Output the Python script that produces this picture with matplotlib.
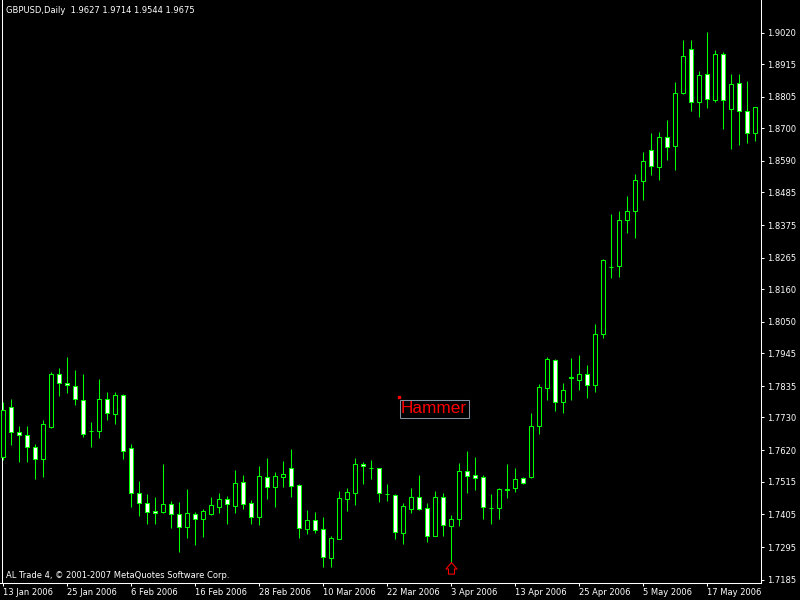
import matplotlib
matplotlib.use('Agg')
import matplotlib.pyplot as plt
from matplotlib.path import Path
import numpy as np

title_text = "GBPUSD,Daily  1.9627 1.9714 1.9544 1.9675"
copyright_text = "AL Trade 4, \u00a9 2001-2007 MetaQuotes Software Corp."

opens = [1.7598, 1.7764, 1.7680, 1.7670, 1.7630, 1.7590, 1.7699, 1.7875, 1.7844, 1.7834,
         1.7787, 1.7684, 1.7683, 1.7791, 1.7740, 1.7804, 1.7626, 1.7476, 1.7442, 1.7416,
         1.7412, 1.7439, 1.7405, 1.7362, 1.7405, 1.7391, 1.7407, 1.7431, 1.7455, 1.7434,
         1.7512, 1.7442, 1.7397, 1.7529, 1.7498, 1.7529, 1.7559, 1.7502, 1.7357, 1.7386,
         1.7355, 1.7260, 1.7323, 1.7457, 1.7478, 1.7574, 1.7560, 1.7559, 1.7473, 1.7469,
         1.7343, 1.7424, 1.7462, 1.7425, 1.7333, 1.7462, 1.7367, 1.7390, 1.7549, 1.7536,
         1.7529, 1.7427, 1.7427, 1.7488, 1.7494, 1.7526, 1.7531, 1.7702, 1.7830, 1.7924,
         1.7781, 1.7863, 1.7856, 1.7876, 1.7840, 1.8011, 1.8233, 1.8237, 1.8391, 1.8421,
         1.8523, 1.8627, 1.8571, 1.8670, 1.8641, 1.8817, 1.8964, 1.8787, 1.8880, 1.8794,
         1.8948, 1.8763, 1.8850, 1.8757, 1.8683]
highs = [1.7783, 1.7792, 1.7701, 1.7701, 1.7641, 1.7721, 1.7882, 1.7896, 1.7933, 1.7889,
         1.7876, 1.7715, 1.7859, 1.7815, 1.7815, 1.7808, 1.7641, 1.7517, 1.7474, 1.7463,
         1.7574, 1.7450, 1.7446, 1.7490, 1.7413, 1.7423, 1.7463, 1.7477, 1.7467, 1.7554,
         1.7537, 1.7453, 1.7567, 1.7594, 1.7547, 1.7584, 1.7624, 1.7507, 1.7421, 1.7413,
         1.7396, 1.7332, 1.7484, 1.7493, 1.7594, 1.7581, 1.7587, 1.7560, 1.7507, 1.7472,
         1.7442, 1.7493, 1.7536, 1.7442, 1.7482, 1.7476, 1.7402, 1.7577, 1.7617, 1.7597,
         1.7537, 1.7473, 1.7492, 1.7574, 1.7560, 1.7529, 1.7745, 1.7842, 1.7933, 1.7926,
         1.7844, 1.7929, 1.7939, 1.7906, 1.8043, 1.8261, 1.8412, 1.8422, 1.8472, 1.8546,
         1.8620, 1.8684, 1.8687, 1.8727, 1.8855, 1.8996, 1.8996, 1.8892, 1.9022, 1.8962,
         1.8955, 1.8882, 1.8882, 1.8857, 1.8770]
lows = [1.7587, 1.7638, 1.7582, 1.7582, 1.7525, 1.7531, 1.7695, 1.7803, 1.7813, 1.7773,
        1.7665, 1.7632, 1.7662, 1.7721, 1.7709, 1.7591, 1.7431, 1.7400, 1.7374, 1.7374,
        1.7411, 1.7360, 1.7280, 1.7327, 1.7303, 1.7330, 1.7404, 1.7411, 1.7374, 1.7411,
        1.7424, 1.7374, 1.7370, 1.7457, 1.7431, 1.7498, 1.7464, 1.7327, 1.7340, 1.7343,
        1.7230, 1.7230, 1.7322, 1.7417, 1.7437, 1.7508, 1.7525, 1.7447, 1.7451, 1.7322,
        1.7306, 1.7411, 1.7420, 1.7312, 1.7332, 1.7333, 1.7246, 1.7367, 1.7478, 1.7487,
        1.7390, 1.7374, 1.7390, 1.7461, 1.7481, 1.7508, 1.7527, 1.7675, 1.7788, 1.7753,
        1.7744, 1.7788, 1.7822, 1.7796, 1.7816, 1.7997, 1.8199, 1.8202, 1.8349, 1.8333,
        1.8459, 1.8543, 1.8526, 1.8593, 1.8560, 1.8816, 1.8758, 1.8738, 1.8768, 1.8789,
        1.8696, 1.8629, 1.8643, 1.8649, 1.8658]
closes = [1.7755, 1.7680, 1.7672, 1.7632, 1.7592, 1.7707, 1.7875, 1.7844, 1.7838, 1.7791,
          1.7673, 1.7683, 1.7791, 1.7744, 1.7804, 1.7616, 1.7476, 1.7444, 1.7414, 1.7411,
          1.7439, 1.7405, 1.7362, 1.7409, 1.7391, 1.7416, 1.7435, 1.7455, 1.7439, 1.7509,
          1.7441, 1.7397, 1.7533, 1.7498, 1.7533, 1.7539, 1.7501, 1.7358, 1.7386, 1.7354,
          1.7263, 1.7326, 1.7459, 1.7479, 1.7574, 1.7566, 1.7559, 1.7475, 1.7472, 1.7347,
          1.7432, 1.7462, 1.7424, 1.7333, 1.7462, 1.7370, 1.7388, 1.7550, 1.7535, 1.7528,
          1.7431, 1.7426, 1.7489, 1.7491, 1.7523, 1.7509, 1.7700, 1.7831, 1.7926, 1.7781,
          1.7821, 1.7864, 1.7876, 1.7840, 1.8009, 1.8257, 1.8234, 1.8391, 1.8421, 1.8525,
          1.8589, 1.8574, 1.8670, 1.8638, 1.8818, 1.8942, 1.8787, 1.8878, 1.8797, 1.8948,
          1.8793, 1.8847, 1.8756, 1.8683, 1.8770]

date_labels = ['13 Jan 2006', '25 Jan 2006', '6 Feb 2006', '16 Feb 2006', '28 Feb 2006',
               '10 Mar 2006', '22 Mar 2006', '3 Apr 2006', '13 Apr 2006', '25 Apr 2006',
               '5 May 2006', '17 May 2006']
date_label_step = 8
price_labels = ['1.9020', '1.8915', '1.8805', '1.8700', '1.8590', '1.8485', '1.8375',
                '1.8265', '1.8160', '1.8050', '1.7945', '1.7835', '1.7730', '1.7620',
                '1.7515', '1.7405', '1.7295', '1.7185']

hammer_index = 56
hammer_label = 'Hammer'
hammer_dot = (49.5, 1.7798)
hammer_text_pos = (49.75, 1.7759)

GREEN = '#00ff00'
W, H = 800, 600
fig = plt.figure(figsize=(8, 6), dpi=100, facecolor='black')
ax = fig.add_axes([0, 17 / H, 761 / W, 583 / H])
ax.set_facecolor('black')

o = np.array(opens); h = np.array(highs); l = np.array(lows); c = np.array(closes)
n = len(o)
x = np.arange(n)
bull = c >= o
ax.vlines(x, l, h, colors=GREEN, linewidth=0.75, zorder=2)
ax.bar(x, np.abs(c - o), bottom=np.minimum(o, c), width=0.5,
       color=['black' if b else 'white' for b in bull],
       edgecolor=GREEN, linewidth=0.75, zorder=3)

ax.set_xlim(-0.375, 94.75)
ax.set_ylim(1.71748, 1.91296)

for s in ['top', 'left']:
    ax.spines[s].set_visible(False)
for s in ['bottom', 'right']:
    ax.spines[s].set_color('white')
    ax.spines[s].set_linewidth(0.75)

ax.axvline(-0.125, color='white', linewidth=0.75, zorder=1)

ax.yaxis.tick_right()
ax.set_yticks([float(v) for v in price_labels])
ax.set_yticklabels(price_labels)
ax.tick_params(axis='y', colors='white', labelcolor='white', length=2.5, width=0.75,
               pad=2, labelsize=6)
ax.set_xticks(list(range(0, date_label_step * len(date_labels), date_label_step)))
ax.set_xticklabels(date_labels)
ax.tick_params(axis='x', colors='white', labelcolor='white', length=2, width=0.75,
               pad=1.5, labelsize=6)
for lbl in ax.get_xticklabels():
    lbl.set_horizontalalignment('left')

# Hammer signal
arrow_verts = [(0, 0), (5.5, -6.5), (3, -6.5), (3, -11.6), (-3, -11.6), (-3, -6.5),
               (-5.5, -6.5), (0, 0)]
arrow_codes = [Path.MOVETO] + [Path.LINETO] * 6 + [Path.CLOSEPOLY]
ax.plot([hammer_index], [lows[hammer_index]], marker=Path(arrow_verts, arrow_codes),
        markersize=16.7, markerfacecolor='none', markeredgecolor='red',
        markeredgewidth=0.75, linestyle='none', zorder=5, clip_on=False)
ax.plot([hammer_dot[0]], [hammer_dot[1]], marker='s', markersize=1.5, color='red',
        linestyle='none', zorder=5)
ax.text(hammer_text_pos[0], hammer_text_pos[1], hammer_label, color='red', fontsize=12.4,
        family='Liberation Sans', ha='left', va='center', zorder=6,
        bbox=dict(boxstyle='square,pad=0.08', fc='none', ec='#8090a0', lw=0.75))

fig.text(6 / W, 1 - 10.5 / H, title_text, color='white', fontsize=6, ha='left', va='center')
fig.text(6 / W, 1 - 575 / H, copyright_text, color='white', fontsize=6, ha='left', va='center')

fig.savefig('out.png', dpi=100, facecolor='black')
